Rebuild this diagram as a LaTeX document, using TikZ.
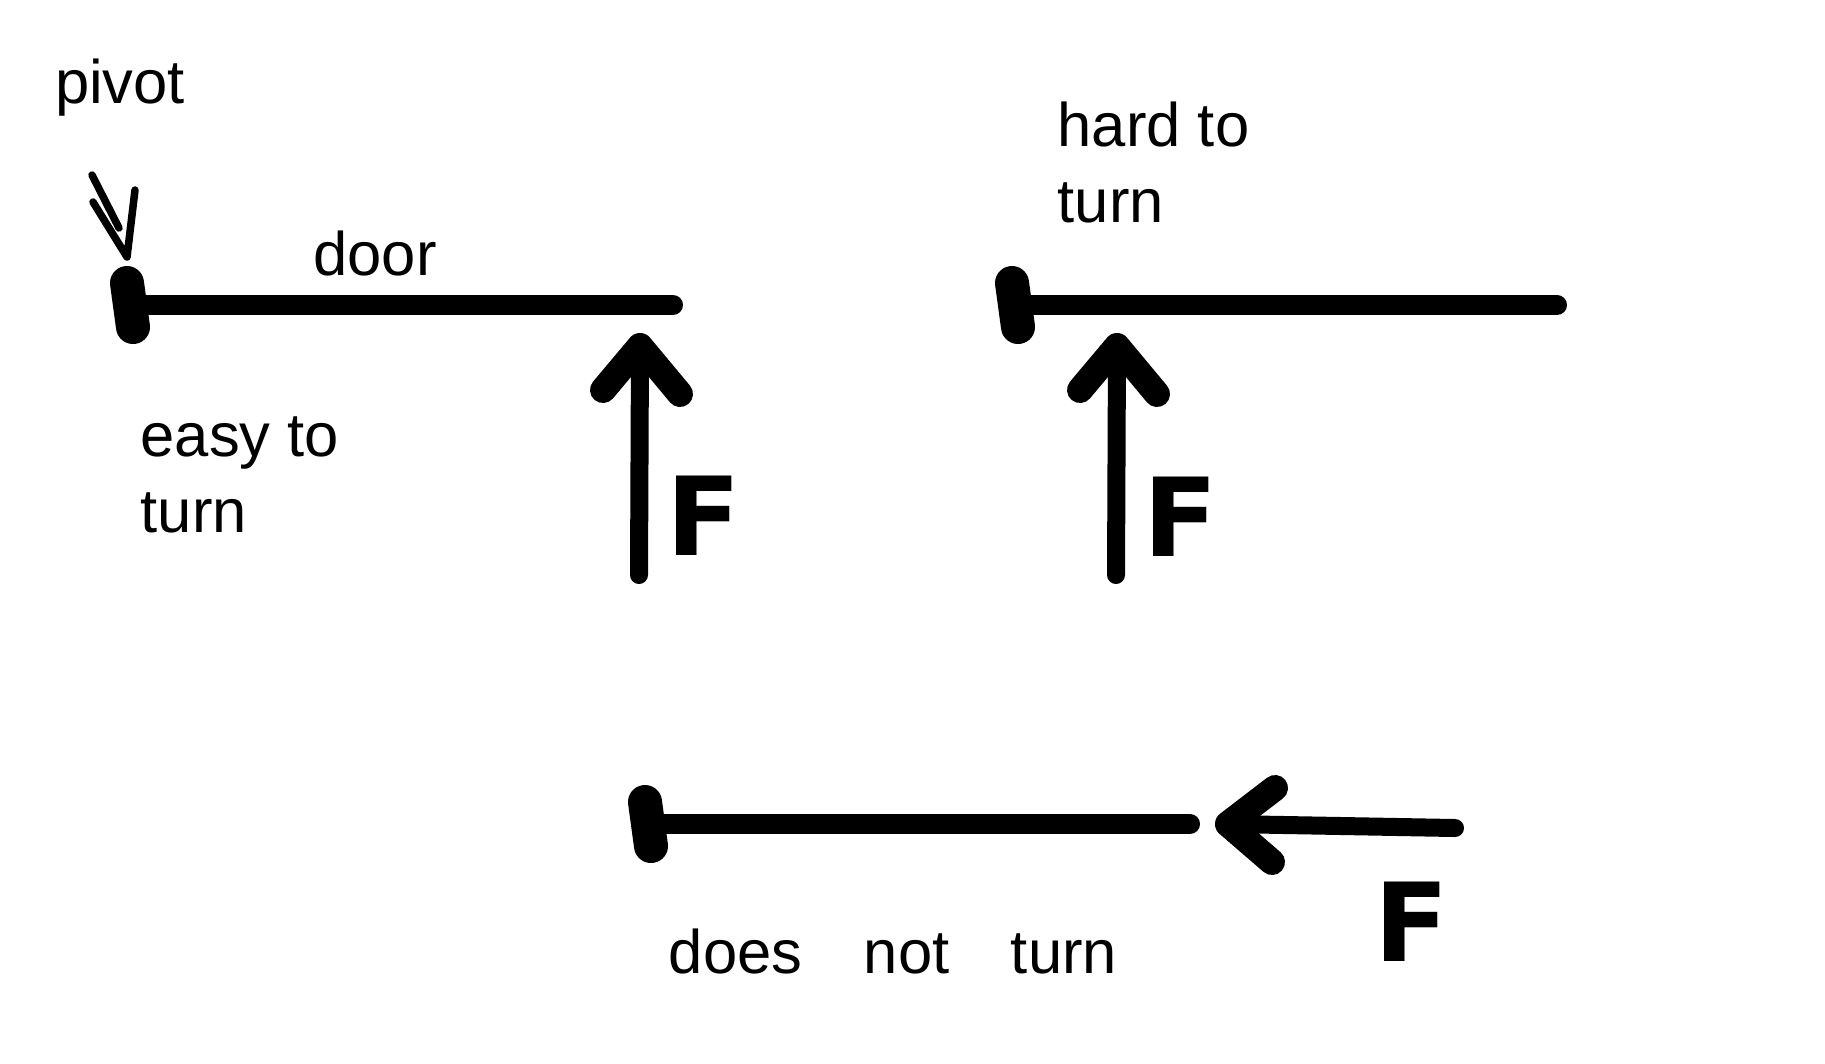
\documentclass[tikz,border=0pt]{standalone}
\usepackage{fontspec}
\setmainfont{Liberation Sans}
\newfontfamily\Ffont{DejaVu Sans}
\tikzset{
  doorline/.style={line width=0.2cm, line cap=round},
  shaft/.style={line width=0.18cm, line cap=round},
  head/.style={line width=0.26cm, line cap=round, line join=round},
  pivotdot/.style={line width=0.34cm, line cap=round},
  hand/.style={font=\fontsize{17.5}{21.6}\selectfont, inner sep=0pt},
  force/.style={font=\Ffont\bfseries\fontsize{31}{31}\selectfont, inner sep=0pt},
  pointer/.style={line width=0.075cm, line cap=round, line join=round}
}
\begin{document}
\begin{tikzpicture}[x=0.01cm,y=-0.01cm]
\fill[white] (0,0) rectangle (1825,1063);
\useasboundingbox (0,0) rectangle (1825,1063);

% ---------- door 1 (easy to turn) ----------
\coordinate (d1a) at (131,305);
\coordinate (d1b) at (673,305);
\draw[doorline] (d1a) -- (d1b);
\draw[pivotdot] ([shift={(-4,-22)}]d1a) -- ([shift={(2,22)}]d1a);

\coordinate (a1t) at (639,575);
\coordinate (a1h) at (640,346);
\draw[shaft] (a1t) -- (a1h);
\draw[head] ([shift={(-37,44)}]a1h) -- (a1h) -- ([shift={(40,48)}]a1h);
\node[force] (F1) at (704,516) {F};

% pivot label and pointer
\node[hand] (pivot) at (120,88) {pivot};
\coordinate (q1) at (92,175);
\coordinate (q2) at (119,228);
\coordinate (q3) at (93,202);
\coordinate (q4) at (127,257);
\coordinate (q5) at (135,190);
\draw[pointer] (q1) -- (q2);
\draw[pointer] (q3) -- (q4) -- (q5);

\node[hand] (door) at (375,253) {door};
\node[hand, align=left, anchor=north west] (easy) at (140,416) {easy to\\turn};

% ---------- door 2 (hard to turn) ----------
\coordinate (d2a) at (1016,305);
\coordinate (d2b) at (1557,305);
\draw[doorline] (d2a) -- (d2b);
\draw[pivotdot] ([shift={(-4,-22)}]d2a) -- ([shift={(2,22)}]d2a);

\coordinate (a2t) at (1116,575);
\coordinate (a2h) at (1117,346);
\draw[shaft] (a2t) -- (a2h);
\draw[head] ([shift={(-37,44)}]a2h) -- (a2h) -- ([shift={(40,48)}]a2h);
\node[force] (F2) at (1181,517) {F};

\node[hand, align=left, anchor=north west] (hard) at (1057,101) {hard to\\turn};

% ---------- door 3 (does not turn) ----------
\coordinate (d3a) at (649,824);
\coordinate (d3b) at (1190,824);
\draw[doorline] (d3a) -- (d3b);
\draw[pivotdot] ([shift={(-4,-22)}]d3a) -- ([shift={(2,22)}]d3a);

\coordinate (a3t) at (1455,828);
\coordinate (a3h) at (1228,824);
\draw[shaft] (a3t) -- (a3h);
\draw[head] ([shift={(47,-36)}]a3h) -- (a3h) -- ([shift={(44,38)}]a3h);
\node[force] (F3) at (1412,922) {F};

\node[hand] (nope) at (893,951) {does\hspace{1em}not\hspace{1em}turn};
\end{tikzpicture}
\end{document}
